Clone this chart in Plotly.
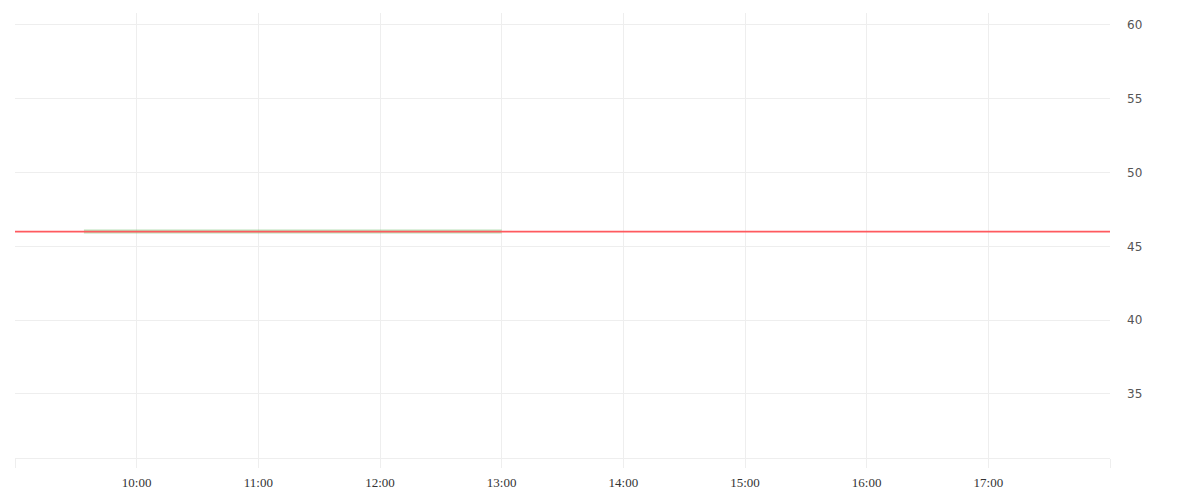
import plotly.graph_objects as go

day = "2024-01-02"

# intraday price points (flat session)
times = ["09:34", "10:00", "11:00", "12:00", "13:00"]
prices = [46, 46, 46, 46, 46]

prev_close = 46

hour_ticks = ["09:00", "10:00", "11:00", "12:00", "13:00", "14:00",
              "15:00", "16:00", "17:00", "18:00"]
hour_labels = ["", "10:00", "11:00", "12:00", "13:00", "14:00",
               "15:00", "16:00", "17:00", ""]

y_ticks = [35, 40, 45, 50, 55, 60]
y_range = [30.66, 60.81]

grid = "#eeeeee"

fig = go.Figure()
fig.add_trace(go.Scatter(
    x=[f"{day} {t}" for t in times], y=prices, mode="lines",
    line=dict(color="rgba(130,200,130,0.55)", width=4),
    hoverinfo="skip", showlegend=False))

fig.add_hline(y=prev_close, line=dict(color="#ff5a5f", width=1.6),
              layer="above")

fig.update_xaxes(
    type="date", automargin=False,
    range=[f"{day} {hour_ticks[0]}", f"{day} {hour_ticks[-1]}"],
    tickvals=[f"{day} {t}" for t in hour_ticks], ticktext=hour_labels,
    showgrid=True, gridcolor=grid, gridwidth=1,
    showline=True, linecolor=grid, linewidth=1,
    ticks="outside", ticklen=9, tickcolor=grid, ticklabelstandoff=3,
    tickfont=dict(family="Liberation Serif", size=13, color="#333"),
    zeroline=False)
fig.update_yaxes(
    side="right", range=y_range, tickvals=y_ticks, automargin=False,
    showgrid=True, gridcolor=grid, gridwidth=1, zeroline=False,
    showline=False, ticks="", ticklabelstandoff=16,
    tickfont=dict(family="DejaVu Sans", size=12, color="#555"))

fig.update_layout(
    width=1184, height=484,
    margin=dict(l=7, r=82, t=5, b=34),
    paper_bgcolor="white", plot_bgcolor="white")

fig.write_html("out.html")
